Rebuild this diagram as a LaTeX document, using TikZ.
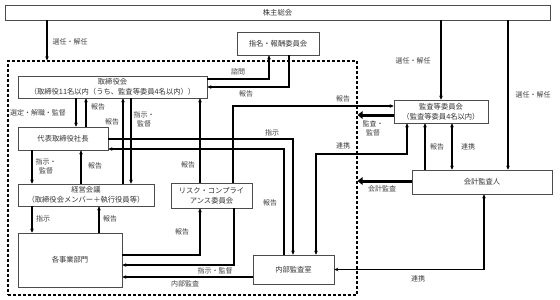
\documentclass[tikz,border=0pt]{standalone}
\usepackage{fontspec}
\setmainfont{Noto Sans CJK JP}
\usetikzlibrary{arrows.meta}
\begin{document}
\begin{tikzpicture}[x=1pt,y=-1pt,
  box/.style={draw=black!70, line width=0.6pt, fill=white, text=black!80, align=center, inner sep=0pt, font=\fontsize{7.3}{9.8}\selectfont},
  lab/.style={text=black!75, font=\fontsize{7}{8.8}\selectfont, align=center, inner sep=0pt},
  conn/.style={line width=1.1pt},
  arr/.style={conn, -{Stealth[length=4pt,width=3.6pt]}},
  darr/.style={conn, {Stealth[length=4pt,width=3.6pt]}-{Stealth[length=4pt,width=3.6pt]}},
  big/.style={line width=3pt, -{Triangle[length=5pt,width=7.5pt]}},
  framebox/.style={draw, line width=1.1pt, dash pattern=on 3pt off 2pt, inner sep=0pt},
]
\useasboundingbox (0,0) rectangle (560,300);
% dashed frame
\node[framebox, minimum width=349pt, minimum height=234pt] (frame) at (182.5,178) {};
% boxes
\node[box, minimum width=545pt, minimum height=15pt] (sh) at (277.5,12.5) {株主総会};
\node[box, minimum width=82pt, minimum height=23pt] (nom) at (278,43.5) {指名・報酬委員会};
\node[box, minimum width=189pt, minimum height=22pt] (bd) at (112.5,87) {取締役会\\（取締役11名以内（うち、監査等委員4名以内））};
\node[box, minimum width=90pt, minimum height=23pt] (ceo) at (63,138.5) {代表取締役社長};
\node[box, minimum width=136pt, minimum height=22pt] (mgt) at (86,195) {経営会議\\（取締役会メンバー＋執行役員等）};
\node[box, minimum width=104pt, minimum height=54pt] (biz) at (70,260) {各事業部門};
\node[box, minimum width=81pt, minimum height=25pt] (risk) at (211.5,195.5) {リスク・コンプライ\\アンス委員会};
\node[box, minimum width=81pt, minimum height=29pt] (ia) at (293.5,269.5) {内部監査室};
\node[box, minimum width=94pt, minimum height=23pt] (ac) at (441,111.5) {監査等委員会\\（監査等委員4名以内）};
\node[box, minimum width=140pt, minimum height=24pt] (ext) at (482,182) {会計監査人};

% shareholders
\draw[arr] (sh.south -| 47,0) -- (frame.north -| 47,0);
\node[lab] (l1) at (70,42) {選任・解任};
\draw[arr] (sh.south -| ac.north) -- (ac.north);
\node[lab] (l2) at (413,61) {選任・解任};
\draw[arr] (sh.south -| 508,0) -- (ext.north -| 508,0);
\node[lab] (l3) at (533,95) {選任・解任};

% board <-> nomination
\draw[arr] (bd.east |- 0,79) -| (nom.south -| 269,0);
\node[lab] (l4) at (238,72) {諮問};
\draw[arr] (nom.south -| 289,0) |- (bd.east);
\node[lab] (l5) at (246,94) {報告};

% risk committee
\draw[arr] (risk.north -| 233,0) |- (ac.west |- 0,106);
\node[lab] (l6) at (343,99) {報告};
\draw[arr] (risk.north -| 200,0) -- (bd.south -| 200,0);
\node[lab] (l7) at (188,165) {報告};

% board <-> ceo
\draw[arr] (bd.south -| 76,0) -- (ceo.north -| 76,0);
\node[lab] (l8) at (38,113) {選定・解職・監督};
\draw[arr] (ceo.north -| 86,0) -- (bd.south -| 86,0);
\node[lab] (l9) at (98,107) {報告};

% board <-> mgt
\draw[arr] (mgt.north -| 123,0) -- (bd.south -| 123,0);
\node[lab] (l10) at (112,122) {報告};
\draw[arr] (bd.south -| 131,0) -- (mgt.north -| 131,0);
\node[lab] (l11) at (144,119.5) {指示・\\監督};

% ceo <-> mgt
\draw[arr] (ceo.south -| 32,0) -- (mgt.north -| 32,0);
\node[lab] (l12) at (46,166) {指示・\\監督};
\draw[arr] (mgt.north -| 81,0) -- (ceo.south -| 81,0);
\node[lab] (l13) at (95,166) {報告};

% mgt <-> biz
\draw[arr] (mgt.south -| 32,0) -- (biz.north -| 32,0);
\node[lab] (l14) at (43,219) {指示};
\draw[arr] (biz.north -| 99,0) -- (mgt.south -| 99,0);
\node[lab] (l15) at (110,219) {報告};

% ceo <-> internal audit
\draw[arr] (ceo.east |- 0,139) -| (ia.north -| 293,0);
\node[lab] (l16) at (272,133) {指示};
\draw[arr] (ia.north -| 284,0) |- (ceo.east |- 0,149);
\node[lab] (l17) at (270,203) {報告};

% audit committee <-> internal audit
\draw[darr] (ia.north -| 316,0) |- (407,154) -- (ac.south -| 407,0);
\node[lab] (l18) at (343,146) {連携};

% thick arrows
\draw[big] (ac.west |- 0,115) -- (frame.east |- 0,115);
\node[lab] (l19) at (373,128) {監査・\\監督};
\draw[big] (ext.west |- 0,181) -- (frame.east |- 0,181);
\node[lab] (l20) at (382,189) {会計監査};

% external auditor <-> audit committee
\draw[arr] (ext.north -| 425,0) -- (ac.south -| 425,0);
\node[lab] (l21) at (437,147) {報告};
\draw[darr] (ext.north -| 452,0) -- (ac.south -| 452,0);
\node[lab] (l22) at (468,147) {連携};

% external auditor <-> internal audit
\draw[darr] (ext.south -| 484,0) |- (ia.east);
\node[lab] (l23) at (418,279) {連携};

% biz <-> risk / internal audit
\draw[arr] (biz.east |- 0,255) -| (risk.south -| 200,0);
\node[lab] (l24) at (182,232) {報告};
\draw[arr] (risk.south -| 234,0) |- (biz.east |- 0,265);
\node[lab] (l25) at (215,271) {指示・監督};
\draw[arr] (ia.west |- 0,277) -- (biz.east |- 0,277);
\node[lab] (l26) at (185,284) {内部監査};
\end{tikzpicture}
\end{document}
